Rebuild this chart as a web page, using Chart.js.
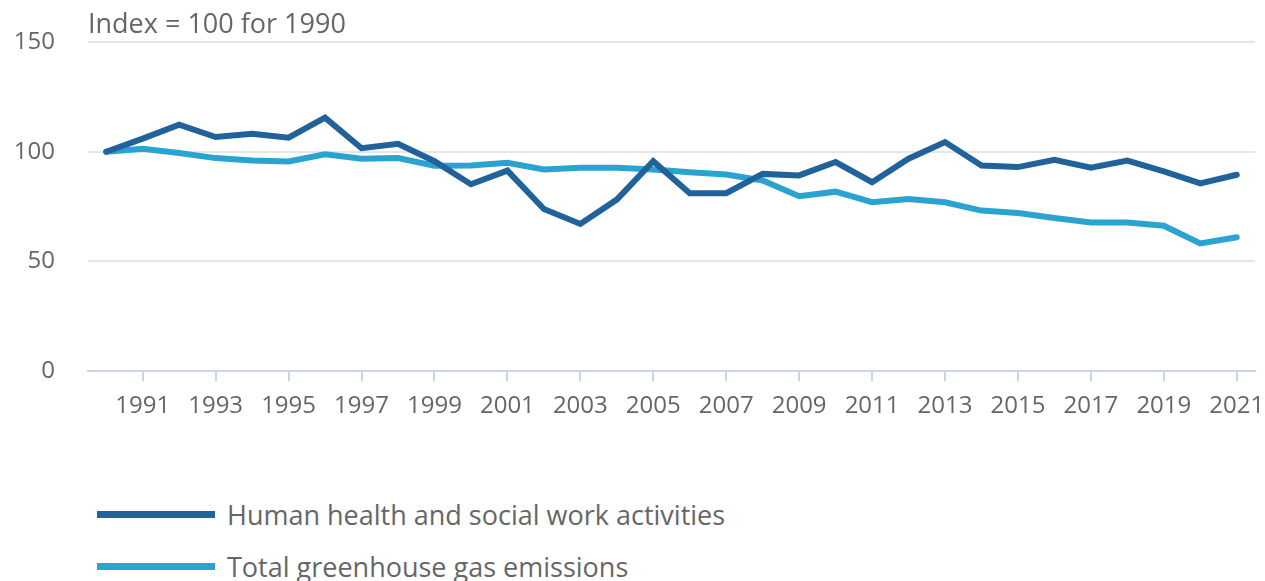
<!DOCTYPE html>
<html>
<head>
<meta charset="utf-8">
<script src="https://cdn.jsdelivr.net/npm/chart.js@4"></script>
<style>
  body { margin: 0; background: #fff; font-family: "Open Sans", sans-serif; }
  #wrap { position: relative; width: 1265px; height: 432px; }
  .legend { position: absolute; left: 97px; color: #666; font-size: 27px; }
  .legend div { display: flex; align-items: center; height: 52px; }
  .legend span.swatch { display: inline-block; width: 118px; height: 7px; margin-right: 12px; }
</style>
</head>
<body>
<div id="wrap"><canvas id="myChart"></canvas></div>
<div class="legend" style="top:488px">
  <div><span class="swatch" style="background:#21629a"></span>Human health and social work activities</div>
  <div><span class="swatch" style="background:#2ba3d1"></span>Total greenhouse gas emissions</div>
</div>
<script>
  const years = [
    '1990','1991','1992','1993','1994','1995','1996','1997','1998','1999',
    '2000','2001','2002','2003','2004','2005','2006','2007','2008','2009',
    '2010','2011','2012','2013','2014','2015','2016','2017','2018','2019',
    '2020','2021'
  ];
  const healthValues = [
    100, 106, 112.3, 106.7, 108.2, 106.4, 115.5, 101.6, 103.6, 95.7,
    85.2, 91.4, 73.9, 67.1, 78.2, 95.7, 81.1, 81.1, 89.9, 89.2,
    95.3, 86.1, 96.8, 104.4, 93.7, 93.0, 96.3, 92.7, 96.0, 91.0,
    85.6, 89.5
  ];
  const ghgValues = [
    100, 101.4, 99.4, 97.1, 96.0, 95.6, 98.8, 96.8, 97.1, 93.6,
    93.7, 95.0, 91.9, 92.7, 92.7, 91.9, 90.7, 89.6, 86.9, 79.7,
    81.8, 77.0, 78.5, 77.0, 73.2, 72.1, 69.8, 67.8, 67.8, 66.3,
    58.2, 61.0
  ];
  const yTicks = [0, 50, 100, 150];
  const unitLabel = 'Index = 100 for 1990';

  const titlePlugin = {
    id: 'unitTitle',
    afterDraw(chart) {
      const ctx = chart.ctx;
      ctx.save();
      ctx.font = '27px "Open Sans"';
      ctx.fillStyle = '#666';
      ctx.textBaseline = 'middle';
      ctx.fillText(unitLabel, chart.chartArea.left, 25);
      ctx.restore();
    }
  };

  const data = {
    labels: years,
    datasets: [
      {
        label: 'Human health and social work activities',
        data: healthValues,
        borderColor: '#21629a',
        backgroundColor: '#21629a',
        borderWidth: 6,
        pointRadius: 0,
        borderCapStyle: 'round',
        borderJoinStyle: 'miter'
      },
      {
        label: 'Total greenhouse gas emissions',
        data: ghgValues,
        borderColor: '#2ba3d1',
        backgroundColor: '#2ba3d1',
        borderWidth: 6,
        pointRadius: 0,
        borderCapStyle: 'round',
        borderJoinStyle: 'miter'
      }
    ]
  };

  const config = {
    type: 'line',
    data: data,
    plugins: [titlePlugin],
    options: {
      responsive: true,
      maintainAspectRatio: false,
      animation: false,
      layout: { padding: { top: 42, right: 10, left: 0, bottom: 0 } },
      plugins: {
        legend: { display: false },
        tooltip: { enabled: false }
      },
      scales: {
        x: {
          offset: true,
          afterFit: (s) => { s.paddingRight = 0; s.paddingLeft = 0; },
          border: { color: '#ccd6eb', width: 2 },
          grid: {
            drawOnChartArea: false,
            tickLength: 10,
            lineWidth: 2,
            color: (c) => (c.index % 2 === 1 ? '#ccd6eb' : 'rgba(0,0,0,0)')
          },
          ticks: {
            autoSkip: false,
            maxRotation: 0,
            padding: 11,
            color: '#666',
            font: { family: 'Open Sans', size: 24 },
            callback: (v, i) => (i % 2 === 1 ? years[i] : '')
          }
        },
        y: {
          min: 0,
          max: 150,
          afterBuildTicks: (s) => { s.ticks = yTicks.map(v => ({ value: v })); },
          afterFit: (s) => { s.width = 88; s.paddingTop = 0; s.paddingBottom = 0; },
          border: { display: false },
          grid: { color: '#e6e6e6', lineWidth: 2, drawTicks: false },
          ticks: {
            padding: 33,
            color: '#666',
            font: { family: 'Open Sans', size: 24 }
          }
        }
      }
    }
  };

  const myChart = new Chart(document.getElementById('myChart'), config);
</script>
</body>
</html>
